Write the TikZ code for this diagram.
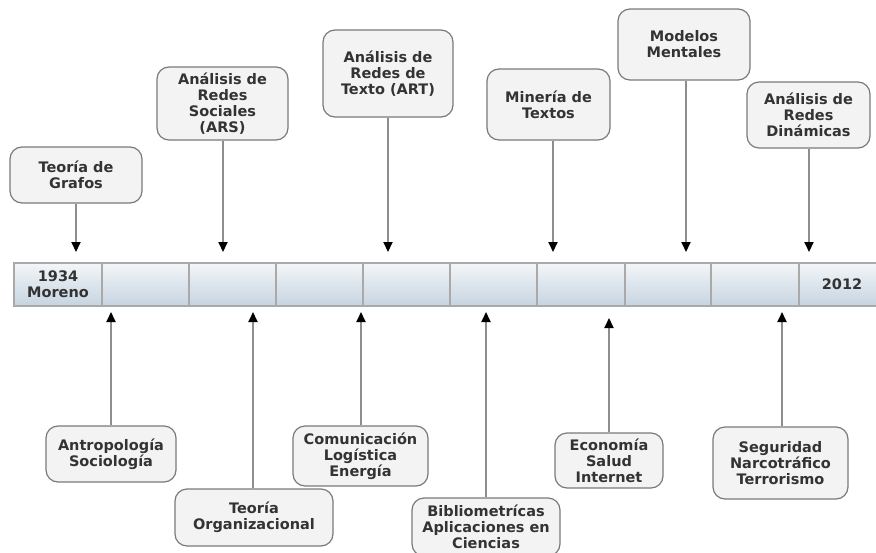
\documentclass[tikz,border=0pt]{standalone}
\usepackage{fontspec}
\setmainfont{DejaVu Sans}
\usetikzlibrary{arrows.meta}
\definecolor{txt}{HTML}{333333}
\definecolor{bfill}{HTML}{F3F3F3}
\definecolor{bdraw}{HTML}{7A7A7A}
\definecolor{lgray}{HTML}{8E8E8E}
\definecolor{ctop}{HTML}{F3F6F9}
\definecolor{cbot}{HTML}{C6D4E0}
\definecolor{cdraw}{HTML}{A9A9A9}
\tikzset{
  box/.style={draw=bdraw, line width=1.2pt, fill=bfill, rounded corners=12pt,
    align=center, text=txt, font=\fontsize{14.5}{16}\selectfont\bfseries, inner sep=0pt},
  cell/.style={draw=cdraw, line width=1.5pt, top color=ctop, bottom color=cbot,
    minimum height=43pt, inner sep=0pt, align=center, text=txt,
    font=\fontsize{14.5}{17}\selectfont\bfseries},
  arr/.style={draw=lgray, line width=2pt, -{Triangle[length=10pt, width=9pt, color=black]}}
}
\begin{document}
\begin{tikzpicture}[x=1pt, y=-1pt]
\useasboundingbox (0,0) rectangle (876,552);
\clip (0,0) rectangle (876,552);
\fill[white] (0,0) rectangle (876,552);

% timeline cells
\foreach \a/\b/\n in {14/102/0,102/189/1,189/276/2,276/363/3,363/450/4,450/537/5,537/625/6,625/711/7,711/799/8,799/890/9}{
  \node[cell, minimum width={(\b-\a)*1pt}] (c\n) at ({(\a+\b)/2},284.5) {};
}
\node[text=txt, font=\fontsize{14.5}{16}\selectfont\bfseries, align=center] (y1934) at (c0.center) {1934\\Moreno};
\node[text=txt, font=\fontsize{14.5}{16}\selectfont\bfseries] (y2012) at (842,284.5) {2012};

% top boxes
\node[box, minimum width=132pt, minimum height=56pt] (grafos) at (76,175) {Teoría de\\Grafos};
\node[box, minimum width=131pt, minimum height=73pt] (ars) at (222.5,103.5) {Análisis de\\Redes\\Sociales\\(ARS)};
\node[box, minimum width=130pt, minimum height=87pt] (art) at (388,73.5) {Análisis de\\Redes de\\Texto (ART)};
\node[box, minimum width=123pt, minimum height=71pt] (mineria) at (548.5,104.5) {Minería de\\Textos};
\node[box, minimum width=132pt, minimum height=71pt] (modelos) at (684,44.5) {Modelos\\Mentales};
\node[box, minimum width=123pt, minimum height=66pt] (dinam) at (808.5,115) {Análisis de\\Redes\\Dinámicas};

% bottom boxes
\node[box, minimum width=130pt, minimum height=56pt] (antro) at (111,454) {Antropología\\Sociología};
\node[box, minimum width=158pt, minimum height=57pt] (orga) at (254,517.5) {Teoría\\Organizacional};
\node[box, minimum width=135pt, minimum height=60pt] (comu) at (360.5,456) {Comunicación\\Logística\\Energía};
\node[box, minimum width=148pt, minimum height=58pt] (biblio) at (486,527) {Bibliometrícas\\Aplicaciones en\\Ciencias};
\node[box, minimum width=108pt, minimum height=55pt] (econ) at (609,460.5) {Economía\\Salud\\Internet};
\node[box, minimum width=135pt, minimum height=72pt] (segu) at (780.5,463) {Seguridad\\Narcotráfico\\Terrorismo};

% arrow tips
\coordinate (t1) at (76,252);
\coordinate (t2) at (223,252);
\coordinate (t3) at (388,252);
\coordinate (t4) at (553,252);
\coordinate (t5) at (686,252);
\coordinate (t6) at (809,252);
\coordinate (b1) at (111,312);
\coordinate (b2) at (253,312);
\coordinate (b3) at (361,312);
\coordinate (b4) at (486,312);
\coordinate (b5) at (609,318);
\coordinate (b6) at (782,312);

\draw[arr] (grafos.south -| t1) -- (t1);
\draw[arr] (ars.south -| t2) -- (t2);
\draw[arr] (art.south -| t3) -- (t3);
\draw[arr] (mineria.south -| t4) -- (t4);
\draw[arr] (modelos.south -| t5) -- (t5);
\draw[arr] (dinam.south -| t6) -- (t6);

\draw[arr] (antro.north -| b1) -- (b1);
\draw[arr] (orga.north -| b2) -- (b2);
\draw[arr] (comu.north -| b3) -- (b3);
\draw[arr] (biblio.north -| b4) -- (b4);
\draw[arr] (econ.north -| b5) -- (b5);
\draw[arr] (segu.north -| b6) -- (b6);
\end{tikzpicture}
\end{document}
